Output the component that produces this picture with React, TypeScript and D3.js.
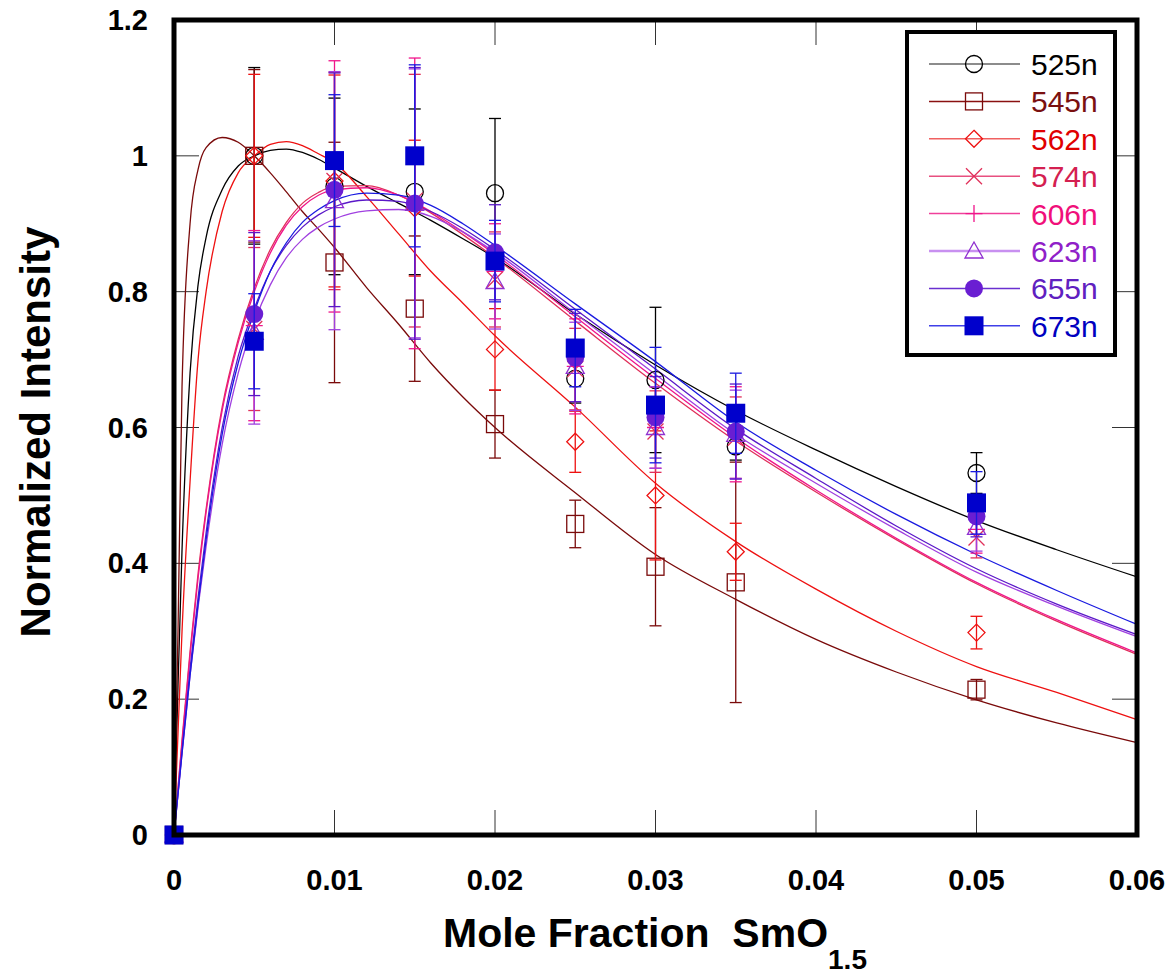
import React, { useEffect } from 'react';
import * as d3 from 'd3';

// ---------- data ----------
const seriesNames = ['525n', '545n', '562n', '574n', '606n', '623n', '655n', '673n'];
const markerTypes = ['circle', 'square', 'diamond', 'cross', 'plus', 'triangle', 'dot', 'block'];
const lineColors = ['#000000', '#7a0a0a', '#ee1111', '#e0305a', '#f0158a', '#a040e0', '#5a18c8', '#1a1ae0'];
const textColors = ['#000000', '#7a1010', '#e00000', '#d42050', '#f0107a', '#9020c8', '#6020c0', '#0000c0'];
const legendLineColors = ['#666666', '#8a1010', '#f06060', '#e85080', '#f0409a', '#c890f0', '#6a30d0', '#4040e8'];

const xTicks = [0, 0.01, 0.02, 0.03, 0.04, 0.05, 0.06];
const xTickLabels = ['0', '0.01', '0.02', '0.03', '0.04', '0.05', '0.06'];
const yTicks = [0, 0.2, 0.4, 0.6, 0.8, 1.0, 1.2];
const yTickLabels = ['0', '0.2', '0.4', '0.6', '0.8', '1', '1.2'];

// measured points
const sampleX = [0, 0.005, 0.01, 0.015, 0.02, 0.025, 0.03, 0.035, 0.05];
const y525 = [0, 1.0, 0.955, 0.947, 0.945, 0.672, 0.670, 0.572, 0.533];
const e525 = [0, 0.13, 0.13, 0.122, 0.11, 0.036, 0.107, 0.02, 0.03];
const y545 = [0, 1.0, 0.843, 0.775, 0.605, 0.458, 0.395, 0.372, 0.214];
const e545 = [0, 0.127, 0.177, 0.107, 0.05, 0.035, 0.087, 0.177, 0.015];
const y562 = [0, 1.0, 0.963, 0.923, 0.715, 0.579, 0.5, 0.417, 0.298];
const e562 = [0, 0.12, 0.156, 0.1, 0.06, 0.045, 0.095, 0.042, 0.024];
const y574 = [0, 0.745, 0.963, 0.934, 0.818, 0.686, 0.594, 0.585, 0.438];
const e574 = [0, 0.12, 0.16, 0.186, 0.07, 0.06, 0.06, 0.06, 0.03];
const y606 = [0, 0.75, 0.955, 0.93, 0.83, 0.69, 0.6, 0.59, 0.45];
const e606 = [0, 0.14, 0.185, 0.214, 0.07, 0.07, 0.06, 0.07, 0.035];
const y623 = [0, 0.74, 0.934, 0.93, 0.815, 0.69, 0.6, 0.59, 0.453];
const e623 = [0, 0.135, 0.19, 0.198, 0.07, 0.065, 0.06, 0.065, 0.035];
const y655 = [0, 0.767, 0.95, 0.93, 0.858, 0.703, 0.615, 0.594, 0.469];
const e655 = [0, 0.12, 0.172, 0.2, 0.07, 0.065, 0.06, 0.07, 0.03];
const y673 = [0, 0.727, 0.993, 1.0, 0.845, 0.717, 0.633, 0.621, 0.489];
const e673 = [0, 0.07, 0.097, 0.134, 0.06, 0.057, 0.085, 0.059, 0.046];

// fitted curves
const curveX = [0, 0.00025, 0.0005, 0.001, 0.0015, 0.002, 0.003, 0.004, 0.005, 0.006, 0.007, 0.008, 0.009, 0.01, 0.012, 0.014, 0.016, 0.018, 0.02, 0.025, 0.03, 0.035, 0.04, 0.045, 0.05, 0.055, 0.06];
const fit525 = [0, 0.22, 0.42, 0.68, 0.81, 0.88, 0.95, 0.985, 1.0, 1.008, 1.01, 1.005, 0.995, 0.982, 0.955, 0.93, 0.905, 0.878, 0.85, 0.767, 0.692, 0.625, 0.567, 0.513, 0.463, 0.42, 0.38];
const fit545 = [0, 0.3, 0.66, 0.9, 0.98, 1.012, 1.027, 1.02, 1.0, 0.975, 0.947, 0.918, 0.892, 0.865, 0.806, 0.752, 0.695, 0.645, 0.6, 0.504, 0.413, 0.347, 0.288, 0.24, 0.199, 0.165, 0.136];
const fit562 = [0, 0.15, 0.3, 0.52, 0.7, 0.8, 0.918, 0.975, 1.0, 1.017, 1.021, 1.015, 1.003, 0.99, 0.94, 0.885, 0.83, 0.783, 0.735, 0.63, 0.518, 0.432, 0.362, 0.3, 0.248, 0.21, 0.17];
const fit574 = [0, 0.07, 0.14, 0.27, 0.385, 0.48, 0.63, 0.73, 0.805, 0.862, 0.902, 0.93, 0.946, 0.955, 0.956, 0.942, 0.916, 0.884, 0.85, 0.757, 0.665, 0.58, 0.505, 0.435, 0.37, 0.315, 0.266];
const fit606 = [0, 0.068, 0.135, 0.265, 0.378, 0.475, 0.625, 0.725, 0.8, 0.857, 0.898, 0.925, 0.942, 0.95, 0.953, 0.942, 0.918, 0.888, 0.855, 0.763, 0.672, 0.585, 0.508, 0.437, 0.372, 0.317, 0.268];
const fit623 = [0, 0.06, 0.12, 0.235, 0.335, 0.425, 0.575, 0.68, 0.755, 0.81, 0.85, 0.877, 0.895, 0.907, 0.919, 0.921, 0.911, 0.888, 0.858, 0.768, 0.678, 0.59, 0.518, 0.45, 0.387, 0.337, 0.292];
const fit655 = [0, 0.062, 0.125, 0.245, 0.35, 0.445, 0.6, 0.705, 0.775, 0.83, 0.868, 0.895, 0.913, 0.925, 0.935, 0.933, 0.918, 0.893, 0.862, 0.774, 0.686, 0.598, 0.525, 0.455, 0.392, 0.34, 0.295];
const fit673 = [0, 0.06, 0.12, 0.235, 0.34, 0.435, 0.59, 0.695, 0.77, 0.83, 0.872, 0.902, 0.921, 0.934, 0.945, 0.942, 0.927, 0.9, 0.868, 0.782, 0.697, 0.608, 0.537, 0.472, 0.413, 0.36, 0.31];

const yVals = [y525, y545, y562, y574, y606, y623, y655, y673];
const eVals = [e525, e545, e562, e574, e606, e623, e655, e673];
const fits = [fit525, fit545, fit562, fit574, fit606, fit623, fit655, fit673];

// ---------- layout ----------
const W = 1169;
const H = 979;
const PL = 174, PR = 1137, PT = 20, PB = 835;

const x = d3.scaleLinear().domain([0, 0.06]).range([PL, PR]);
const y = d3.scaleLinear().domain([0, 1.2]).range([PB, PT]);

function Marker({ type, cx, cy, color }: { type: string; cx: number; cy: number; color: string }) {
  const sw = 1.3;
  switch (type) {
    case 'circle':
      return <circle cx={cx} cy={cy} r={8.5} fill="none" stroke={color} strokeWidth={sw} />;
    case 'square':
      return <rect x={cx - 8.5} y={cy - 8.5} width={17} height={17} fill="none" stroke={color} strokeWidth={sw} />;
    case 'diamond':
      return <path d={`M${cx},${cy - 8.5}L${cx + 8.5},${cy}L${cx},${cy + 8.5}L${cx - 8.5},${cy}Z`} fill="none" stroke={color} strokeWidth={sw} />;
    case 'cross':
      return <path d={`M${cx - 8},${cy - 8}L${cx + 8},${cy + 8}M${cx - 8},${cy + 8}L${cx + 8},${cy - 8}`} fill="none" stroke={color} strokeWidth={sw} />;
    case 'plus':
      return <path d={`M${cx},${cy - 8.5}V${cy + 8.5}M${cx - 8.5},${cy}H${cx + 8.5}`} fill="none" stroke={color} strokeWidth={sw} />;
    case 'triangle':
      return <path d={`M${cx},${cy - 9}L${cx + 9},${cy + 7}L${cx - 9},${cy + 7}Z`} fill="none" stroke={color} strokeWidth={sw} />;
    case 'dot':
      return <circle cx={cx} cy={cy} r={9} fill={color} stroke="none" />;
    case 'block':
      return <rect x={cx - 9.5} y={cy - 9.5} width={19} height={19} fill={color} stroke="none" />;
    default:
      return null;
  }
}

const markerColors = ['#000000', '#7a0a0a', '#ee1111', '#e0305a', '#f0158a', '#9030d0', '#6a1ed2', '#0000cc'];

export default function App() {
  useEffect(() => {
    document.body.style.margin = '0';
  }, []);

  const line = d3
    .line<number>()
    .x((_, i) => x(curveX[i]))
    .y((d) => y(d))
    .curve(d3.curveMonotoneX);

  const font = "'Liberation Sans', Arial, Helvetica, sans-serif";

  return (
    <svg width={W} height={H} style={{ display: 'block', position: 'absolute', left: 0, top: 0, background: '#fff' }} fontFamily={font}>
      <rect x={0} y={0} width={W} height={H} fill="#fff" />
      {/* ticks */}
      <g stroke="#333" strokeWidth={1}>
        {xTicks.map((t, i) => (
          <g key={'xt' + i}>
            <line x1={x(t)} x2={x(t)} y1={PB} y2={PB - 25} />
            <line x1={x(t)} x2={x(t)} y1={PT} y2={PT + 25} />
          </g>
        ))}
        {yTicks.map((t, i) => (
          <g key={'yt' + i}>
            <line x1={PL} x2={PL + 25} y1={y(t)} y2={y(t)} />
            <line x1={PR} x2={PR - 25} y1={y(t)} y2={y(t)} />
          </g>
        ))}
      </g>
      {/* curves */}
      <g fill="none">
        {fits.map((f, si) => (
          <path key={'c' + si} d={line(f) || ''} stroke={lineColors[si]} strokeWidth={1.3} />
        ))}
      </g>
      {/* error bars + markers */}
      {seriesNames.map((name, si) => (
        <g key={'s' + si}>
          {sampleX.map((sx, k) => {
            const e = eVals[si][k];
            if (!e) return null;
            const cx = x(sx);
            const y1 = y(yVals[si][k] + e);
            const y2 = y(yVals[si][k] - e);
            return (
              <g key={'e' + k} stroke={lineColors[si]} strokeWidth={1.3}>
                <line x1={cx} x2={cx} y1={y1} y2={y2} />
                <line x1={cx - 6} x2={cx + 6} y1={y1} y2={y1} />
                <line x1={cx - 6} x2={cx + 6} y1={y2} y2={y2} />
              </g>
            );
          })}
          {sampleX.map((sx, k) => (
            <Marker key={'m' + k} type={markerTypes[si]} cx={x(sx)} cy={y(yVals[si][k])} color={markerColors[si]} />
          ))}
        </g>
      ))}
      {/* frame */}
      <rect x={PL} y={PT} width={PR - PL} height={PB - PT} fill="none" stroke="#000" strokeWidth={5} />
      {/* tick labels */}
      <g fontWeight="bold" fontSize={29} fill="#000">
        {xTicks.map((t, i) => (
          <text key={'xl' + i} x={x(t)} y={890} textAnchor="middle">
            {xTickLabels[i]}
          </text>
        ))}
        {yTicks.map((t, i) => (
          <text key={'yl' + i} x={148} y={y(t) + 10} textAnchor="end">
            {yTickLabels[i]}
          </text>
        ))}
      </g>
      {/* axis titles */}
      <text x={655} y={947} textAnchor="middle" fontWeight="bold" fontSize={41} fill="#000">
        Mole Fraction{'\u00a0\u00a0'}SmO
        <tspan fontSize={28} dy={22}>1.5</tspan>
      </text>
      <text transform={`translate(50,432) rotate(-90)`} textAnchor="middle" fontWeight="bold" fontSize={42} fill="#000">
        Normalized Intensity
      </text>
      {/* legend */}
      <rect x={907} y={32} width={208} height={323} fill="#fff" stroke="#000" strokeWidth={4} />
      {seriesNames.map((name, si) => {
        const ly = 64 + si * 37.4;
        return (
          <g key={'lg' + si}>
            <line x1={929} x2={1020} y1={ly} y2={ly} stroke={legendLineColors[si]} strokeWidth={si === 5 ? 2.5 : 1.5} />
            <Marker type={markerTypes[si]} cx={974} cy={ly} color={markerColors[si]} />
            <text x={1031} y={ly + 11} fontSize={30} fill={textColors[si]}>
              {name}
            </text>
          </g>
        );
      })}
    </svg>
  );
}
